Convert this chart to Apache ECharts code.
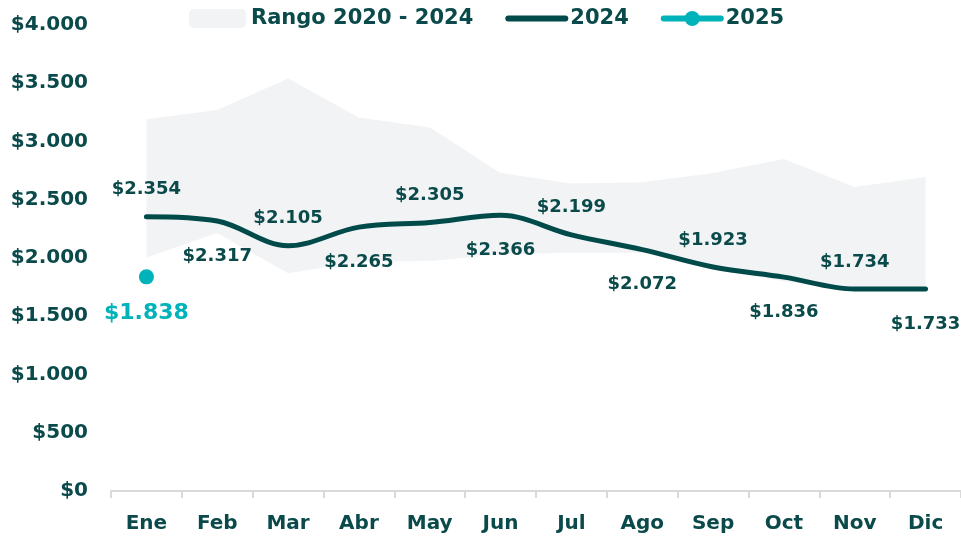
<!DOCTYPE html>
<html>
<head>
<meta charset="utf-8">
<script src="https://cdn.jsdelivr.net/npm/echarts@6/dist/echarts.min.js"></script>
<style>
html,body{margin:0;padding:0;background:#fff;}
#chart{width:961px;height:536px;}
</style>
</head>
<body>
<div id="chart"></div>
<script>
const months = ['Ene','Feb','Mar','Abr','May','Jun','Jul','Ago','Sep','Oct','Nov','Dic'];
const rangeLow  = [2005, 2215, 1870, 1968, 1975, 2030, 2045, 2045, 1900, 1800, 1722, 1725];
const rangeHigh = [3190, 3270, 3540, 3205, 3120, 2730, 2640, 2650, 2730, 2850, 2610, 2695];
const values2024 = [2354, 2317, 2105, 2265, 2305, 2366, 2199, 2072, 1923, 1836, 1734, 1733];
const values2025 = [1838, null, null, null, null, null, null, null, null, null, null, null];
const labelAbove2024 = [true, false, true, false, true, false, true, false, true, false, true, false];

const dark = '#004a4a';
const textDark = '#0b4a4a';
const teal = '#00b2b9';
const bandColor = '#f2f3f5';
const FONT = 'DejaVu Sans';

function fmt(v){
  return '$' + String(Math.round(v)).replace(/\B(?=(\d{3})+(?!\d))/g, '.');
}

const rangeDiff = rangeHigh.map((h, i) => h - rangeLow[i]);

const data2024 = values2024.map((v, i) => ({
  value: v,
  label: {
    show: true,
    position: labelAbove2024[i] ? 'top' : 'bottom',
    distance: labelAbove2024[i] ? 18 : 26
  }
}));

const chart = echarts.init(document.getElementById('chart'), null, {renderer: 'canvas'});
chart.setOption({
  animation: false,
  backgroundColor: '#fff',
  textStyle: {fontFamily: FONT},
  legend: {
    left: 189,
    top: 8,
    padding: 0,
    itemWidth: 57,
    itemHeight: 19,
    itemGap: 32,
    textStyle: {fontFamily: FONT, fontSize: 21, fontWeight: 'bold', color: textDark},
    data: [
      {name: 'Rango 2020 - 2024', icon: 'roundRect', itemStyle: {color: bandColor}},
      {name: '2024', itemStyle: {opacity: 0}, lineStyle: {width: 6, color: dark, cap: 'round'}},
      {name: '2025', lineStyle: {width: 6, color: teal, cap: 'round'}}
    ]
  },
  grid: {left: 111, top: 25, width: 858, height: 466, containLabel: false},
  xAxis: {
    type: 'category',
    data: months,
    boundaryGap: true,
    axisLine: {show: true, lineStyle: {color: '#d9d9d9', width: 2}},
    axisTick: {show: true, alignWithLabel: false, length: 7, lineStyle: {color: '#d9d9d9', width: 2}},
    axisLabel: {fontFamily: FONT, fontSize: 20, fontWeight: 'bold', color: textDark, margin: 23},
    splitLine: {show: false}
  },
  yAxis: {
    type: 'value',
    min: 0,
    max: 4000,
    interval: 500,
    axisLine: {show: false},
    axisTick: {show: false},
    splitLine: {show: false},
    axisLabel: {fontFamily: FONT, fontSize: 20, fontWeight: 'bold', color: textDark, margin: 23, formatter: fmt}
  },
  series: [
    {
      name: 'rangeBase',
      type: 'line',
      stack: 'band',
      data: rangeLow,
      symbol: 'none',
      lineStyle: {opacity: 0, width: 0},
      silent: true,
      z: 1
    },
    {
      name: 'Rango 2020 - 2024',
      type: 'line',
      stack: 'band',
      data: rangeDiff,
      symbol: 'none',
      lineStyle: {opacity: 0, width: 0},
      itemStyle: {color: bandColor},
      areaStyle: {color: bandColor, opacity: 1},
      silent: true,
      z: 1
    },
    {
      name: '2024',
      type: 'line',
      data: data2024,
      smooth: 0.35,
      symbol: 'circle',
      symbolSize: 0.01,
      showSymbol: true,
      showAllSymbol: true,
      lineStyle: {color: dark, width: 5, cap: 'round'},
      itemStyle: {color: dark},
      label: {
        show: true,
        fontFamily: FONT,
        fontSize: 18,
        fontWeight: 'bold',
        color: textDark,
        formatter: p => fmt(p.value)
      },
      labelLayout: {hideOverlap: false},
      z: 3
    },
    {
      name: '2025',
      type: 'line',
      data: values2025,
      symbol: 'circle',
      symbolSize: 15,
      showSymbol: true,
      lineStyle: {color: teal, width: 5},
      itemStyle: {color: teal},
      label: {
        show: true,
        position: 'bottom',
        distance: 18,
        fontFamily: FONT,
        fontSize: 22,
        fontWeight: 'bold',
        color: teal,
        formatter: p => p.value == null ? '' : fmt(p.value)
      },
      z: 4
    }
  ]
});
</script>
</body>
</html>
